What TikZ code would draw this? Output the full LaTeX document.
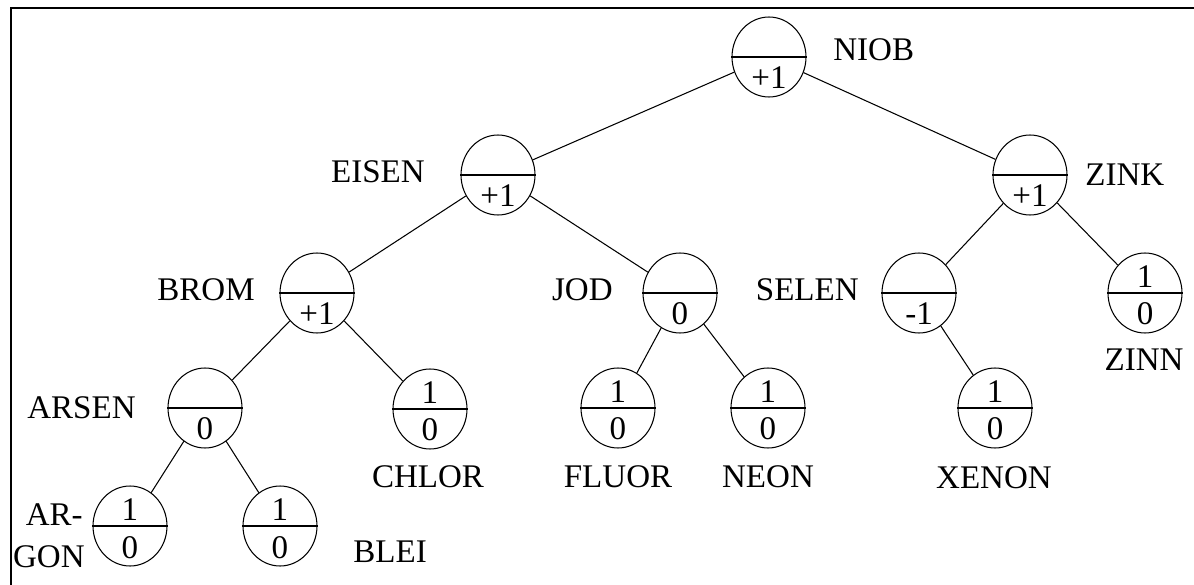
\documentclass[tikz,border=0pt]{standalone}
\usepackage{fontspec}
\setmainfont{Liberation Serif}
\usetikzlibrary{shapes.geometric}
\newcommand{\elemfont}{\fontsize{18.8}{22}\selectfont}
\tikzset{
  element/.style={ellipse,draw=black,line width=0.6pt,minimum width=1.48cm,
    minimum height=1.6cm,inner sep=0pt},
  divider/.style={draw=black,line width=1.2pt},
  edge/.style={draw=black,line width=0.6pt},
  frameline/.style={draw=black,line width=1.3pt},
  digit/.style={font=\elemfont,inner sep=0pt,anchor=base},
  tag/.style={font=\elemfont,inner sep=0pt}
}

\begin{document}
\begin{tikzpicture}[x=0.02cm,y=-0.02cm]
  \useasboundingbox (0,0) rectangle (1194,585);
  \draw[frameline] (1194,8) -- (11,8) -- (11,585);
  % tree nodes: name/x/y/upper/lower
  \foreach \n/\x/\y/\u/\l in {niob/769/57//+1, eisen/498/175//+1,
      zink/1030/175//+1, brom/317/293//+1, jod/680/293//0,
      selen/919/293//-1, zinn/1145/293/1/0, arsen/205/408//0,
      chlor/430/409/1/0, fluor/618/408/1/0, neon/768/408/1/0,
      xenon/995/408/1/0, argon/130/526/1/0, blei/280/526/1/0}
  {
    \node[element] (\n) at (\x,\y) {};
    \draw[divider] (\n.west) -- (\n.east);
    \node[digit] (\n-up) at ([yshift=0.12cm]\n.center) {\u};
    \node[digit] (\n-lo) at ([yshift=-0.64cm]\n.center) {\l};
  }
  \foreach \a/\b in {niob/eisen, niob/zink, eisen/brom, eisen/jod,
      zink/selen, zink/zinn, brom/arsen, brom/chlor, jod/fluor,
      jod/neon, selen/xenon, arsen/argon, arsen/blei}
    \draw[edge] (\a) -- (\b);
  % names
  \foreach \n/\p/\x/\y/\t in {lniob/west/833/50/NIOB, lzink/west/1085/175/ZINK,
      leisen/east/425/172/EISEN, lbrom/east/255/290/BROM,
      ljod/east/613/290/JOD, lselen/east/859/290/SELEN,
      larsen/east/136/408/ARSEN, lar/east/83/515/AR-,
      lgon/east/85/557/GON, lblei/west/353/552/BLEI,
      lchlor/center/428/477/CHLOR, lfluor/center/618/477/FLUOR,
      lneon/center/768/477/NEON, lxenon/center/994/478/XENON,
      lzinn/center/1144/360/ZINN}
    \node[tag,anchor=\p] (\n) at (\x,\y) {\t};
\end{tikzpicture}
\end{document}
